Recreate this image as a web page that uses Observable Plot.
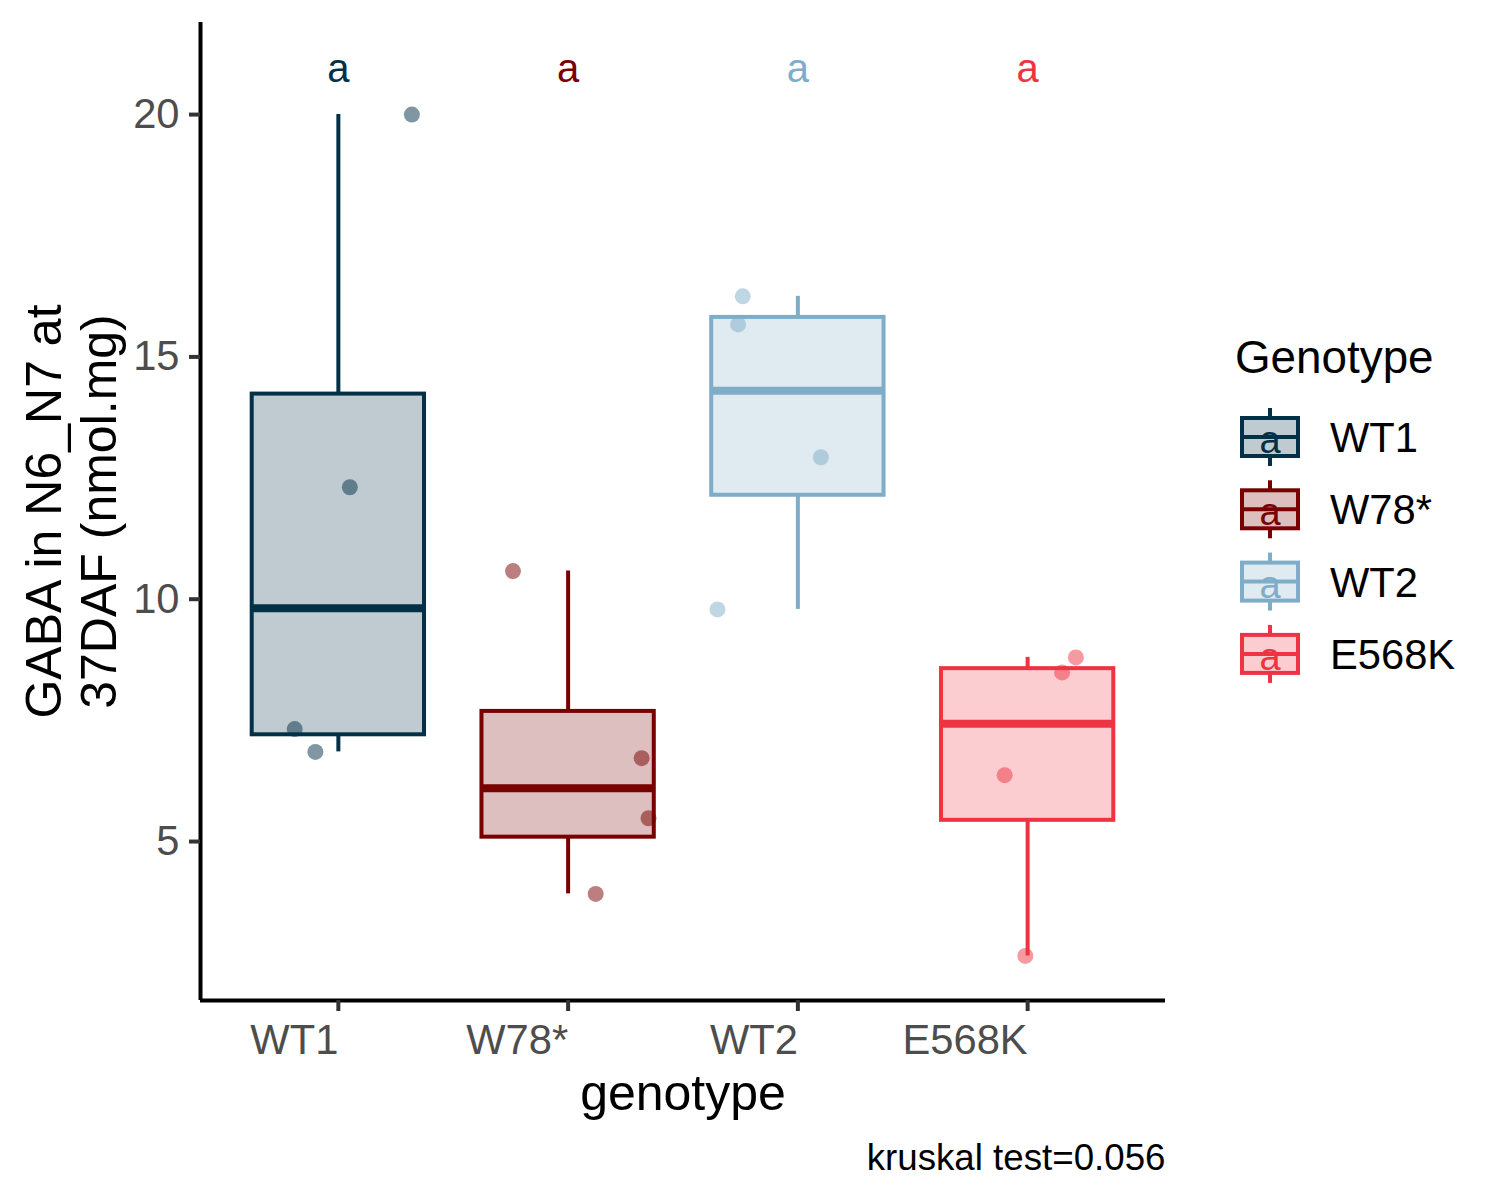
<!DOCTYPE html>
<html>
<head>
<meta charset="utf-8">
<script src="https://cdn.jsdelivr.net/npm/d3@7"></script>
<script src="https://cdn.jsdelivr.net/npm/@observablehq/plot@0.6"></script>
<style>
  html, body { margin: 0; padding: 0; background: white; }
  #chart svg { display: block; }
</style>
</head>
<body>
<div id="chart"></div>
<script>
// ---- data ----
const genotypes = ["WT1", "W78*", "WT2", "E568K"];
const colors = ["#023047", "#780000", "#7FADC8", "#EE3443"];
const valuesWT1 = [20.0, 12.31, 7.32, 6.85];
const valuesW78 = [10.58, 6.72, 5.48, 3.92];
const valuesWT2 = [16.25, 15.67, 12.93, 9.79];
const valuesE568K = [8.80, 8.49, 6.37, 2.64];
// horizontal jitter of each point (fraction of category spacing)
const jitterWT1 = [0.32, 0.05, -0.19, -0.10];
const jitterW78 = [-0.24, 0.32, 0.35, 0.12];
const jitterWT2 = [-0.24, -0.26, 0.10, -0.35];
const jitterE568K = [0.21, 0.15, -0.10, -0.01];
const groupLetters = ["a", "a", "a", "a"];
const letterY = 20.9;
const yTicks = [5, 10, 15, 20];
const yTitle = "GABA in N6_N7 at\n37DAF (nmol.mg)";
const xTitle = "genotype";
const legendTitle = "Genotype";
const caption = "kruskal test=0.056";

const values = [valuesWT1, valuesW78, valuesWT2, valuesE568K];
const jitters = [jitterWT1, jitterW78, jitterWT2, jitterE568K];

const rows = genotypes.flatMap((g, i) =>
  values[i].map((v, j) => ({ g, i: i + 1, v, jx: i + 1 + jitters[i][j] })));

const stats = genotypes.map((g, i) => {
  const s = values[i].slice().sort(d3.ascending);
  const q1 = d3.quantile(s, 0.25), q3 = d3.quantile(s, 0.75), med = d3.median(s);
  const iqr = q3 - q1;
  const lo = d3.min(s.filter(v => v >= q1 - 1.5 * iqr));
  const hi = d3.max(s.filter(v => v <= q3 + 1.5 * iqr));
  return { g, i: i + 1, q1, q3, med, lo, hi };
});
const letterRows = genotypes.map((g, i) => ({ g, i: i + 1, t: groupLetters[i], y: letterY }));

const font = "'Liberation Sans', Arial, Helvetica, sans-serif";
const halfBox = 0.375;

const chart = Plot.plot({
  width: 1500,
  height: 1200,
  marginLeft: 200,
  marginRight: 335,
  marginTop: 22,
  marginBottom: 200,
  style: { fontFamily: font, background: "white" },
  x: { domain: [0.4, 4.6], axis: null },
  y: { domain: [1.72, 21.9], axis: null },
  color: { domain: genotypes, range: colors },
  marks: [
    Plot.ruleX(stats, { x: "i", y1: "lo", y2: "q1", stroke: "g", strokeWidth: 4 }),
    Plot.ruleX(stats, { x: "i", y1: "q3", y2: "hi", stroke: "g", strokeWidth: 4 }),
    Plot.rect(stats, { x1: d => d.i - halfBox, x2: d => d.i + halfBox, y1: "q1", y2: "q3",
      fill: "g", fillOpacity: 0.25, stroke: "g", strokeWidth: 4 }),
    Plot.ruleY(stats, { x1: d => d.i - halfBox, x2: d => d.i + halfBox, y: "med", stroke: "g", strokeWidth: 8 }),
    Plot.dot(rows, { x: "jx", y: "v", r: 8, fill: "g", fillOpacity: 0.5, stroke: null }),
    Plot.text(letterRows, { x: "i", y: "y", text: "t", fill: "g", fontSize: 40, dy: -2 }),
    Plot.ruleX([0.4], { stroke: "black", strokeWidth: 4 }),
    Plot.ruleY([1.72], { stroke: "black", strokeWidth: 4 }),
    Plot.axisY({ ticks: yTicks, tickSize: 11, tickPadding: 10, fontSize: 41.7,
      fill: "#4D4D4D", stroke: "#333333", strokeWidth: 4, label: null }),
    Plot.axisX({ ticks: [1, 2, 3, 4], tickFormat: i => genotypes[i - 1], tickSize: 11, tickPadding: 13,
      fontSize: 41.7, fill: "#4D4D4D", stroke: "#333333", strokeWidth: 4, textAnchor: "end", label: null }),
    Plot.text([yTitle], { text: d => d, frameAnchor: "left", dx: -130, rotate: -90, fontSize: 50,
      lineHeight: 1.1, fill: "black", textAnchor: "middle", lineAnchor: "middle" }),
    Plot.text([xTitle], { text: d => d, frameAnchor: "bottom", dy: 93, fontSize: 50, fill: "black",
      textAnchor: "middle", lineAnchor: "middle" }),
    Plot.text([caption], { text: d => d, frameAnchor: "bottom-right", dy: 158, textAnchor: "end",
      lineAnchor: "middle", fontSize: 36.7, fill: "black" })
  ]
});

// ---- legend ----
const svg = d3.select(chart);
const lg = svg.append("g").attr("font-family", font).attr("text-anchor", "start");
lg.append("text").attr("x", 1235).attr("y", 373).attr("font-size", 45.8).attr("fill", "black").text(legendTitle);
genotypes.forEach((g, k) => {
  const c = colors[k];
  const cy = 437 + k * 72.3;
  const key = lg.append("g");
  key.append("rect").attr("x", 1242).attr("y", cy - 19).attr("width", 56).attr("height", 38)
    .attr("fill", "white");
  key.append("rect").attr("x", 1242).attr("y", cy - 19).attr("width", 56).attr("height", 38)
    .attr("fill", c).attr("fill-opacity", 0.25).attr("stroke", c).attr("stroke-width", 4);
  key.append("line").attr("x1", 1270).attr("x2", 1270).attr("y1", cy - 29).attr("y2", cy - 19)
    .attr("stroke", c).attr("stroke-width", 4);
  key.append("line").attr("x1", 1270).attr("x2", 1270).attr("y1", cy + 19).attr("y2", cy + 29)
    .attr("stroke", c).attr("stroke-width", 4);
  key.append("line").attr("x1", 1242).attr("x2", 1298).attr("y1", cy).attr("y2", cy)
    .attr("stroke", c).attr("stroke-width", 4);
  key.append("text").attr("x", 1270).attr("y", cy + 16).attr("text-anchor", "middle")
    .attr("font-size", 38).attr("fill", c).text(groupLetters[k]);
  lg.append("text").attr("x", 1330).attr("y", cy + 15).attr("font-size", 41.7).attr("fill", "black")
    .attr("text-anchor", "start").text(g);
});

document.getElementById("chart").appendChild(chart);
</script>
</body>
</html>
